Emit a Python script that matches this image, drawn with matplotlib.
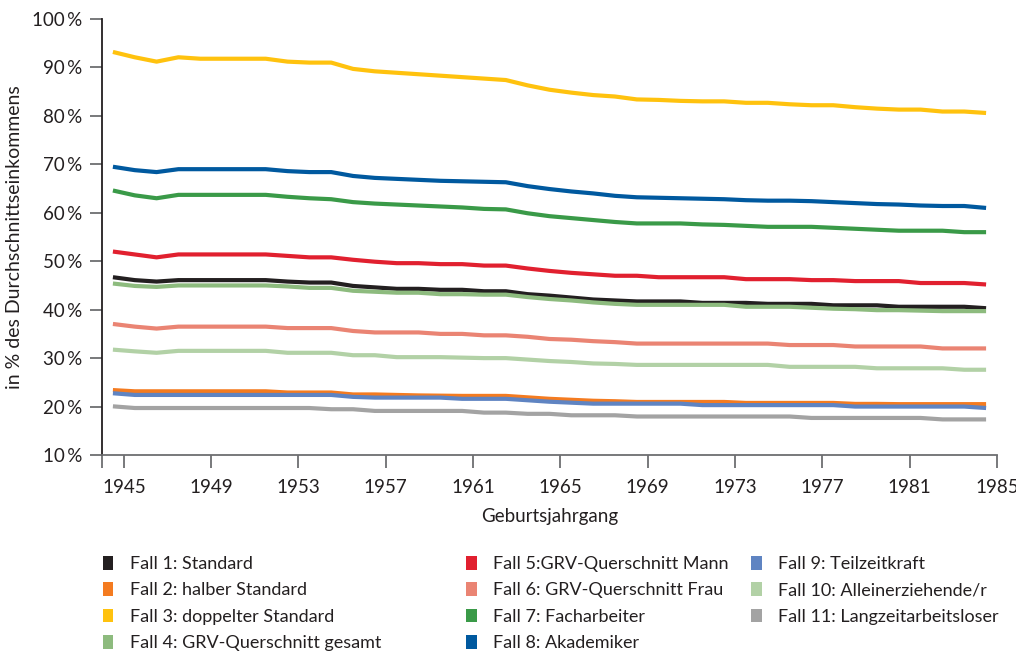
import matplotlib
matplotlib.use("Agg")
import matplotlib.pyplot as plt
from matplotlib.patches import Patch
from matplotlib.ticker import FixedLocator

plt.rcParams['font.family'] = ['Lato', 'DejaVu Sans']

years = list(range(1945, 1986))
tick_years = list(range(1945, 1986, 4))

labels = [
    "Fall 1: Standard",
    "Fall 2: halber Standard",
    "Fall 3: doppelter Standard",
    "Fall 4: GRV-Querschnitt gesamt",
    "Fall 5:GRV-Querschnitt Mann",
    "Fall 6: GRV-Querschnitt Frau",
    "Fall 7: Facharbeiter",
    "Fall 8: Akademiker",
    "Fall 9: Teilzeitkraft",
    "Fall 10: Alleinerziehende/r",
    "Fall 11: Langzeitarbeitsloser",
]
colors = ["#231f20", "#f47b20", "#ffc20e", "#8dbb7e", "#e1202f", "#ea8473",
          "#3a9a48", "#00599f", "#5f84c2", "#b2d1a6", "#a3a3a3"]

fall1 = [46.7, 46.1, 45.8, 46.1, 46.1, 46.1, 46.1, 46.1, 45.8, 45.6,
         45.6, 44.9, 44.6, 44.3, 44.3, 44.1, 44.1, 43.8, 43.8, 43.2,
         42.9, 42.5, 42.1, 41.9, 41.7, 41.7, 41.7, 41.4, 41.4, 41.4,
         41.2, 41.2, 41.2, 40.9, 40.9, 40.9, 40.6, 40.6, 40.6, 40.6, 40.3]
fall2 = [23.4, 23.15, 23.15, 23.15, 23.15, 23.15, 23.15, 23.15, 22.9, 22.9,
         22.9, 22.5, 22.5, 22.4, 22.3, 22.25, 22.2, 22.2, 22.2, 21.9,
         21.6, 21.4, 21.2, 21.1, 20.95, 20.95, 20.95, 20.95, 20.95, 20.75,
         20.75, 20.75, 20.75, 20.75, 20.55, 20.55, 20.5, 20.5, 20.5, 20.5, 20.5]
fall3 = [93.2, 92.1, 91.2, 92.1, 91.8, 91.8, 91.8, 91.8, 91.2, 91.0,
         91.0, 89.7, 89.2, 88.9, 88.6, 88.3, 88.0, 87.7, 87.4, 86.3,
         85.4, 84.8, 84.3, 84.0, 83.4, 83.3, 83.1, 83.0, 83.0, 82.7,
         82.7, 82.4, 82.2, 82.2, 81.8, 81.5, 81.3, 81.3, 80.9, 80.9, 80.6]
fall4 = [45.4, 44.9, 44.7, 45.0, 45.0, 45.0, 45.0, 45.0, 44.8, 44.5,
         44.5, 43.9, 43.7, 43.5, 43.5, 43.2, 43.2, 43.1, 43.1, 42.6,
         42.2, 41.9, 41.5, 41.2, 41.0, 41.0, 41.0, 41.0, 41.0, 40.6,
         40.6, 40.6, 40.4, 40.2, 40.1, 39.9, 39.9, 39.8, 39.7, 39.7, 39.7]
fall5 = [52.0, 51.4, 50.8, 51.4, 51.4, 51.4, 51.4, 51.4, 51.1, 50.8,
         50.8, 50.3, 49.9, 49.6, 49.6, 49.4, 49.4, 49.1, 49.1, 48.5,
         48.0, 47.6, 47.3, 47.0, 47.0, 46.7, 46.7, 46.7, 46.7, 46.3,
         46.3, 46.3, 46.1, 46.1, 45.9, 45.9, 45.9, 45.5, 45.5, 45.5, 45.2]
fall6 = [37.05, 36.5, 36.1, 36.5, 36.5, 36.5, 36.5, 36.5, 36.2, 36.2,
         36.2, 35.6, 35.3, 35.3, 35.3, 35.0, 35.0, 34.7, 34.7, 34.4,
         33.95, 33.8, 33.5, 33.3, 33.0, 33.0, 33.0, 33.0, 33.0, 33.0,
         33.0, 32.7, 32.7, 32.7, 32.4, 32.4, 32.4, 32.4, 32.0, 32.0, 32.0]
fall7 = [64.6, 63.6, 63.0, 63.7, 63.7, 63.7, 63.7, 63.7, 63.3, 63.0,
         62.8, 62.2, 61.9, 61.7, 61.5, 61.3, 61.1, 60.8, 60.7, 59.9,
         59.3, 58.9, 58.5, 58.1, 57.8, 57.8, 57.8, 57.6, 57.5, 57.3,
         57.1, 57.1, 57.1, 56.9, 56.7, 56.5, 56.3, 56.3, 56.3, 56.0, 56.0]
fall8 = [69.5, 68.8, 68.4, 69.0, 69.0, 69.0, 69.0, 69.0, 68.6, 68.4,
         68.4, 67.6, 67.2, 67.0, 66.8, 66.6, 66.5, 66.4, 66.3, 65.5,
         64.9, 64.4, 64.0, 63.5, 63.2, 63.1, 63.0, 62.9, 62.8, 62.6,
         62.5, 62.5, 62.4, 62.2, 62.0, 61.8, 61.7, 61.5, 61.4, 61.4, 61.0]
fall9 = [22.75, 22.4, 22.4, 22.4, 22.4, 22.4, 22.4, 22.4, 22.4, 22.4,
         22.4, 22.0, 21.85, 21.85, 21.85, 21.85, 21.6, 21.6, 21.6, 21.3,
         21.0, 20.8, 20.6, 20.6, 20.6, 20.6, 20.6, 20.3, 20.3, 20.3,
         20.3, 20.3, 20.3, 20.3, 20.0, 20.0, 20.0, 20.0, 20.0, 20.0, 19.7]
fall10 = [31.75, 31.4, 31.1, 31.5, 31.5, 31.5, 31.5, 31.5, 31.1, 31.1,
          31.1, 30.6, 30.6, 30.2, 30.2, 30.2, 30.1, 30.0, 30.0, 29.7,
          29.4, 29.2, 28.9, 28.8, 28.6, 28.6, 28.6, 28.6, 28.6, 28.6,
          28.6, 28.2, 28.2, 28.2, 28.2, 27.9, 27.9, 27.9, 27.9, 27.6, 27.6]
fall11 = [20.05, 19.7, 19.7, 19.7, 19.7, 19.7, 19.7, 19.7, 19.7, 19.7,
          19.45, 19.45, 19.1, 19.1, 19.1, 19.1, 19.1, 18.75, 18.75, 18.5,
          18.5, 18.2, 18.2, 18.2, 17.95, 17.95, 17.95, 17.95, 17.95, 17.95,
          17.95, 17.95, 17.65, 17.65, 17.65, 17.65, 17.65, 17.65, 17.35, 17.35, 17.35]

series = [fall1, fall2, fall3, fall4, fall5, fall6, fall7, fall8, fall9, fall10, fall11]

fig = plt.figure(figsize=(10.16, 6.53), dpi=100)
ax = fig.add_axes([0.1004, 0.3032, 0.8809, 0.6677])

for vals, col, lab in zip(series, colors, labels):
    ax.plot(years, vals, color=col, lw=3.0, label=lab, solid_capstyle='butt')

ax.set_ylim(10, 100)
ax.set_xlim(1944.5, 1985.5)
ax.set_yticks(range(10, 101, 10))
ax.set_yticklabels(["%d\u2009%%" % v for v in range(10, 101, 10)])
# labels sit half a year to the right of the data points, like the original
ax.set_xticks([y + 0.5 for y in tick_years])
ax.set_xticklabels([str(y) for y in tick_years])
ax.xaxis.set_minor_locator(FixedLocator([1944.5]))

for s in ["top", "right"]:
    ax.spines[s].set_visible(False)
ax.spines["left"].set_color("#231f20")
ax.spines["left"].set_linewidth(1.3)
ax.spines["bottom"].set_color("#6d6e71")
ax.spines["bottom"].set_linewidth(1.3)
ax.tick_params(axis="y", length=9, width=1.3, color="#6d6e71", pad=5,
               labelsize=13.5, labelcolor="#231f20")
ax.tick_params(axis="x", which="both", length=9, width=1.3, color="#6d6e71",
               pad=8, labelsize=13.5, labelcolor="#231f20")

ax.set_ylabel("in % des Durchschnittseinkommens", fontsize=14, color="#231f20", labelpad=7)
ax.set_xlabel("Geburtsjahrgang", fontsize=13.5, color="#231f20", labelpad=9)

handles = [Patch(facecolor=c, edgecolor="none") for c in colors]
col_x = [0.101, 0.459, 0.739]
groups = [range(0, 4), range(4, 8), range(8, 11)]
for gx, idx in zip(col_x, groups):
    leg = fig.legend([handles[i] for i in idx], [labels[i] for i in idx],
                     loc="upper left", bbox_to_anchor=(gx, 0.149),
                     frameon=False, fontsize=13, handlelength=0.6,
                     handleheight=0.8, handletextpad=0.9, labelspacing=0.57,
                     borderaxespad=0, borderpad=0)
    for t in leg.get_texts():
        t.set_color("#231f20")

fig.savefig("out.png", dpi=100)
